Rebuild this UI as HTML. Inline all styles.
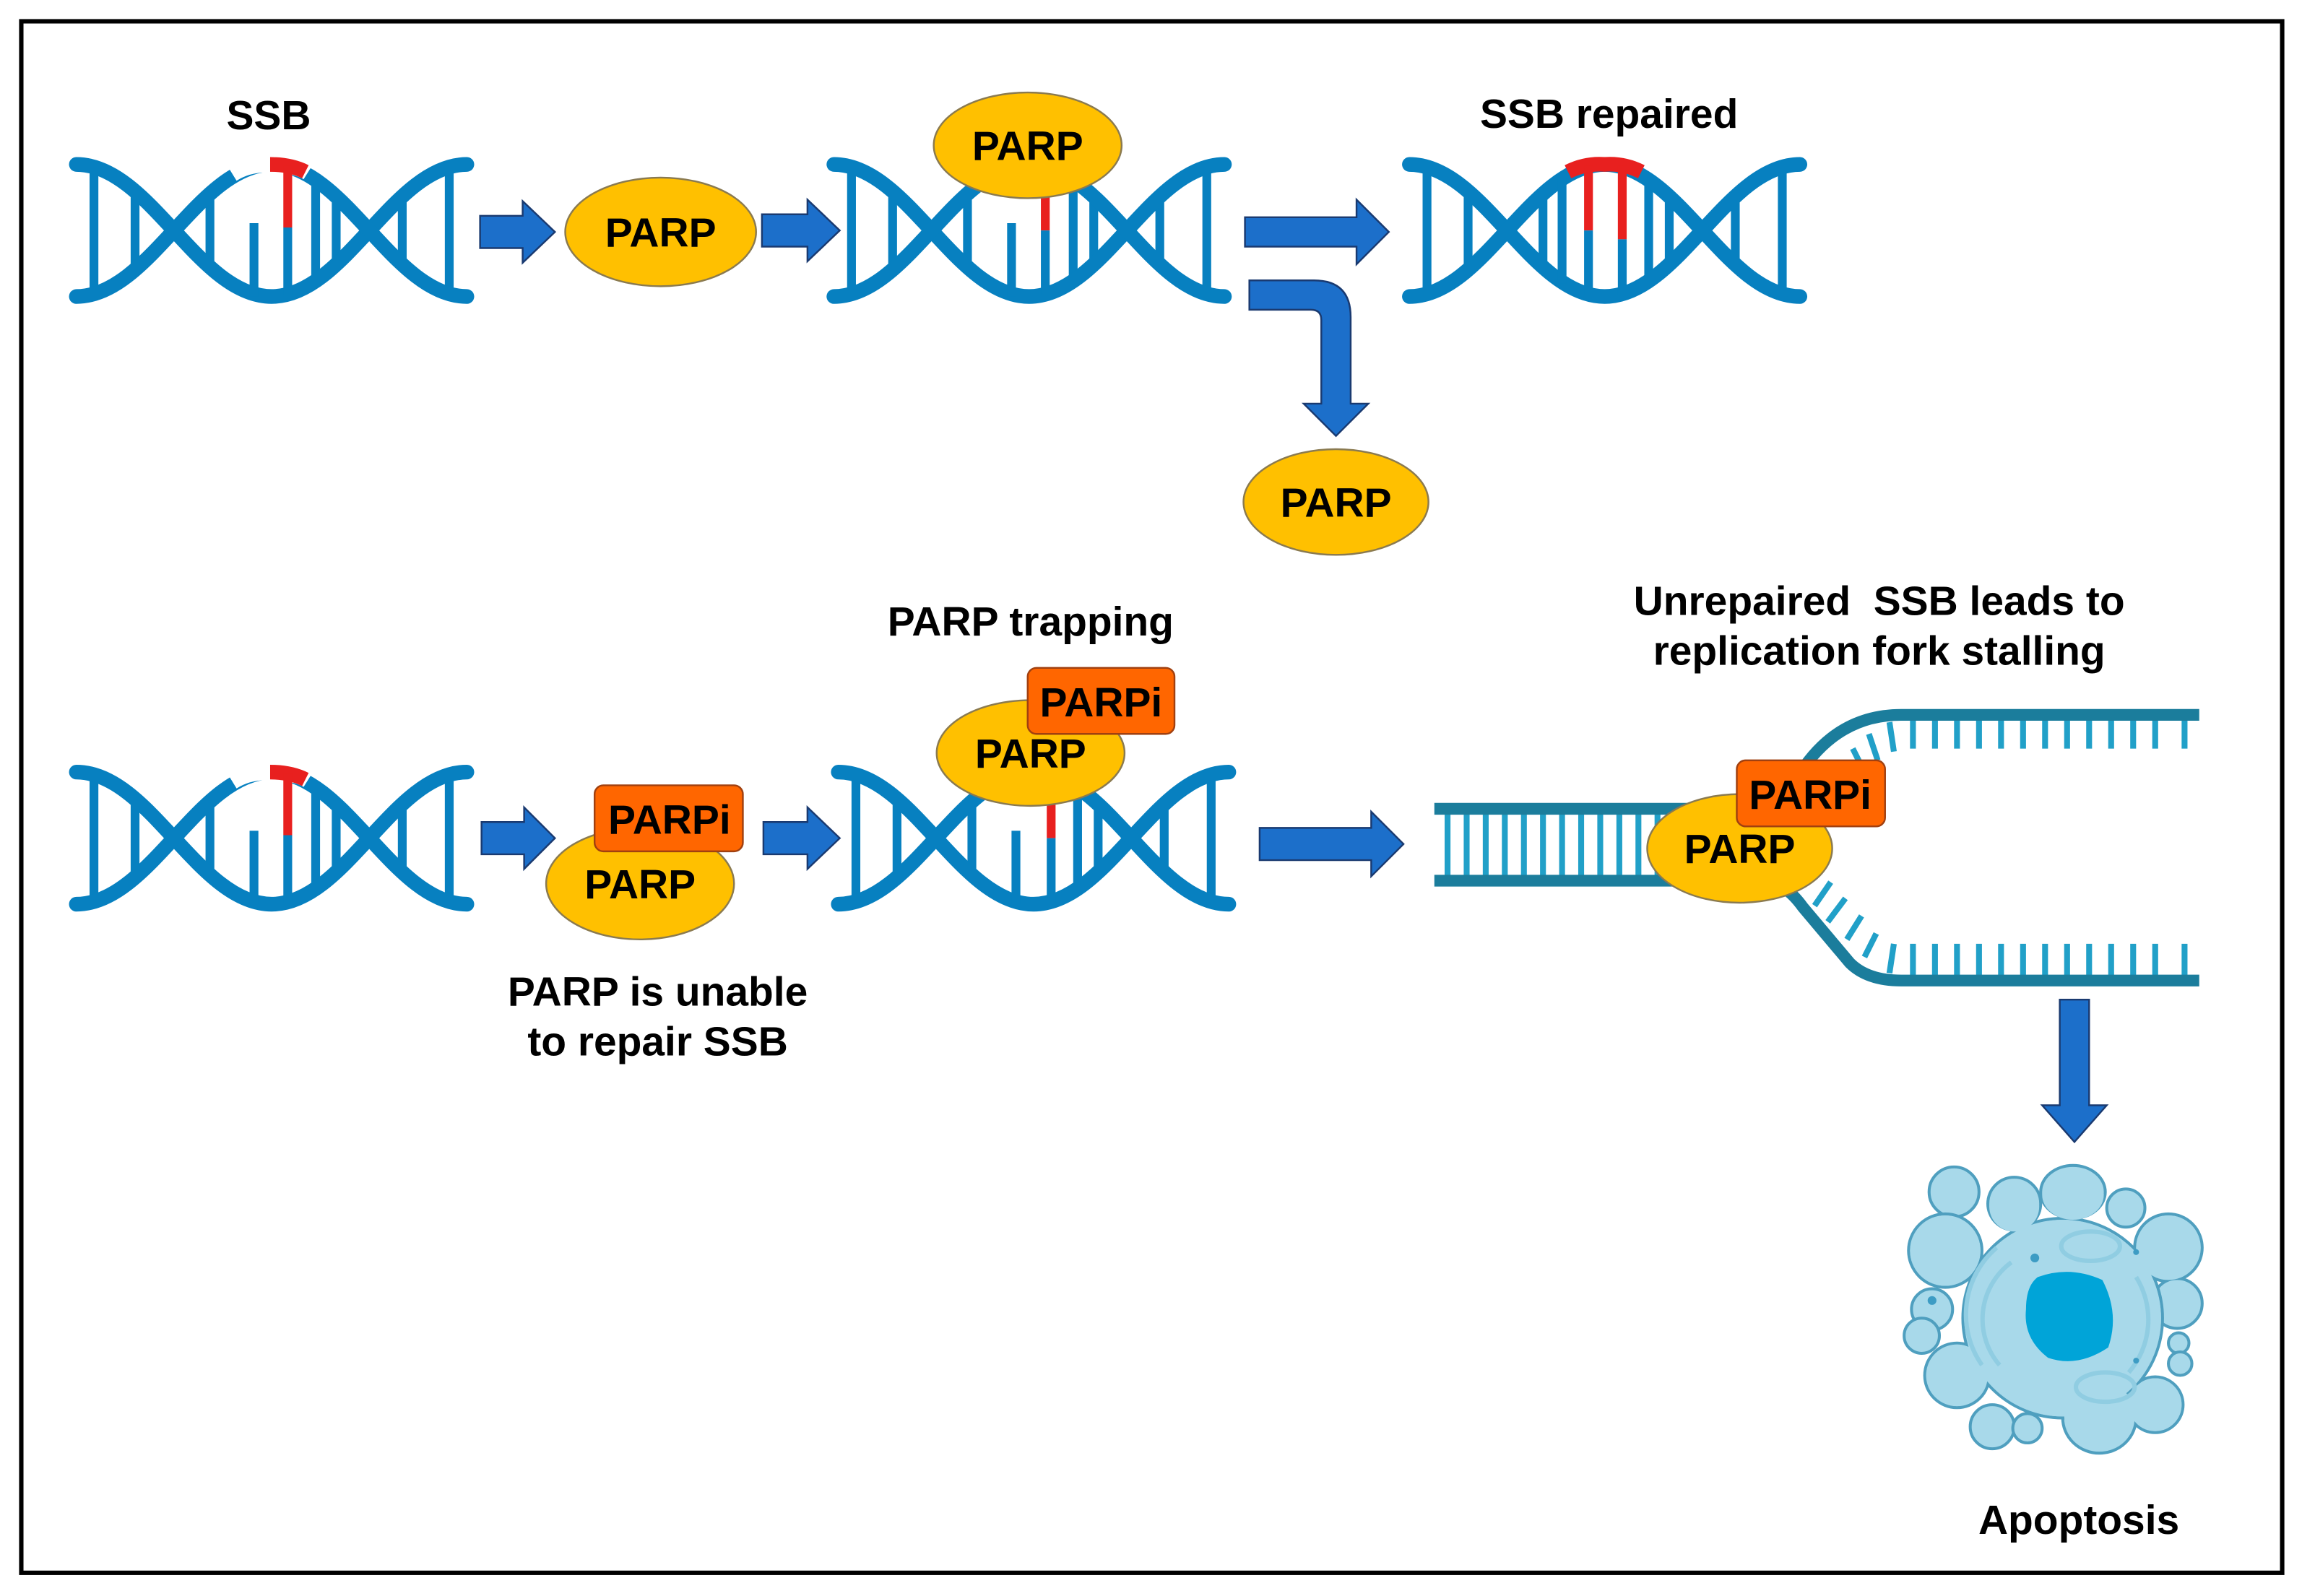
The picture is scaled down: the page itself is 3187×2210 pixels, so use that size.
<!DOCTYPE html>
<html><head><meta charset="utf-8"><style>
html,body{margin:0;padding:0;background:#fff;}
svg{display:block;}
text{font-family:"Liberation Sans",Arial,sans-serif;font-weight:bold;fill:#000;}
</style></head><body>
<svg width="3187" height="2210" viewBox="0 0 1568 1087.3" xmlns="http://www.w3.org/2000/svg">
<defs>
<g id="helix">
  <g stroke="#0780c0" stroke-width="6" fill="none">
    <line x1="12" y1="-44" x2="12" y2="44"/>
    <line x1="40" y1="-26" x2="40" y2="26"/>
    <line x1="91" y1="-25" x2="91" y2="25"/>
    <line x1="163" y1="-34" x2="163" y2="34"/>
    <line x1="177" y1="-25" x2="177" y2="25"/>
    <line x1="222" y1="-22" x2="222" y2="22"/>
    <line x1="254" y1="-44" x2="254" y2="44"/>
  </g>
  <g stroke="#0780c0" stroke-width="10" fill="none" stroke-linecap="round">
    <path d="M0,-45 C50,-45 83,45 133,45 C183,45 216,-45 266,-45"/>
    <path d="M0,45 C50,45 83,-45 133,-45 C183,-45 216,45 266,45"/>
  </g>
</g>
</defs>
<rect x="0" y="0" width="1568" height="1088" fill="#fff"/>
<rect x="14.5" y="14.5" width="1540" height="1057" fill="none" stroke="#000" stroke-width="3"/>

<!-- Helix 1 SSB -->
<g transform="translate(52,157)">
  <use href="#helix"/>
  <line x1="121" y1="-5" x2="121" y2="45" stroke="#0780c0" stroke-width="6"/>
  <path d="M106,-39 Q119,-47 134,-45 Q150,-45 158,-40" stroke="#fff" stroke-width="12" fill="none"/>
  <path d="M132,-45 Q146,-45 156,-40" stroke="#e8201f" stroke-width="10" fill="none"/>
  <line x1="144" y1="-44" x2="144" y2="-2" stroke="#e8201f" stroke-width="6"/>
  <line x1="144" y1="-2" x2="144" y2="44" stroke="#0780c0" stroke-width="6"/>
</g>
<!-- Helix 2 -->
<g transform="translate(568,157)">
  <use href="#helix"/>
  <line x1="121" y1="-5" x2="121" y2="45" stroke="#0780c0" stroke-width="6"/>
  <line x1="144" y1="-24" x2="144" y2="0" stroke="#e8201f" stroke-width="6"/>
  <line x1="144" y1="0" x2="144" y2="44" stroke="#0780c0" stroke-width="6"/>
</g>
<!-- Helix 3 repaired -->
<g transform="translate(960,157)">
  <use href="#helix"/>
  <path d="M108,-40 Q120,-46 133,-45 Q146,-46 158,-40" stroke="#e8201f" stroke-width="10" fill="none"/>
  <line x1="122" y1="-44" x2="122" y2="0" stroke="#e8201f" stroke-width="6"/>
  <line x1="122" y1="0" x2="122" y2="44" stroke="#0780c0" stroke-width="6"/>
  <line x1="145" y1="-44" x2="145" y2="6" stroke="#e8201f" stroke-width="6"/>
  <line x1="145" y1="6" x2="145" y2="44" stroke="#0780c0" stroke-width="6"/>
  <line x1="104" y1="-36" x2="104" y2="36" stroke="#0780c0" stroke-width="6"/>
</g>
<!-- Helix 4 -->
<g transform="translate(52,571)">
  <use href="#helix"/>
  <line x1="121" y1="-5" x2="121" y2="45" stroke="#0780c0" stroke-width="6"/>
  <path d="M106,-39 Q119,-47 134,-45 Q150,-45 158,-40" stroke="#fff" stroke-width="12" fill="none"/>
  <path d="M132,-45 Q146,-45 156,-40" stroke="#e8201f" stroke-width="10" fill="none"/>
  <line x1="144" y1="-44" x2="144" y2="-2" stroke="#e8201f" stroke-width="6"/>
  <line x1="144" y1="-2" x2="144" y2="44" stroke="#0780c0" stroke-width="6"/>
</g>
<!-- Helix 5 -->
<g transform="translate(571,571)">
  <use href="#helix"/>
  <line x1="121" y1="-5" x2="121" y2="45" stroke="#0780c0" stroke-width="6"/>
  <line x1="145" y1="-24" x2="145" y2="0" stroke="#e8201f" stroke-width="6"/>
  <line x1="145" y1="0" x2="145" y2="44" stroke="#0780c0" stroke-width="6"/>
</g>

<!-- Arrows -->
<g fill="#1c6fca" stroke="#1a3a70" stroke-width="1.2">
  <path d="M327,147 L356,147 L356,137 L378,158 L356,179 L356,169 L327,169 Z"/>
  <path d="M519,146 L550,146 L550,136 L572,157 L550,178 L550,168 L519,168 Z"/>
  <path d="M848,148 L924,148 L924,136 L946,158 L924,180 L924,168 L848,168 Z"/>
  <path d="M851,191 L895,191 Q920,191 920,216 L920,275 L932,275 L910,297 L888,275 L900,275 L900,218 Q900,211 893,211 L851,211 Z"/>
  <path d="M328,560 L357,560 L357,550 L378,571 L357,592 L357,582 L328,582 Z"/>
  <path d="M520,560 L550,560 L550,550 L572,571 L550,592 L550,582 L520,582 Z"/>
  <path d="M858,564 L934,564 L934,553 L956,575 L934,597 L934,586 L858,586 Z"/>
  <path d="M1403,681 L1423,681 L1423,753 L1435,753 L1413,778 L1391,753 L1403,753 Z"/>
</g>

<!-- Fork -->
<g stroke="#21a0c8" stroke-width="4">
  <line x1="986" y1="554" x2="986" y2="597"/><line x1="999" y1="554" x2="999" y2="597"/>
  <line x1="1012" y1="554" x2="1012" y2="597"/><line x1="1025" y1="554" x2="1025" y2="597"/>
  <line x1="1038" y1="554" x2="1038" y2="597"/><line x1="1051" y1="554" x2="1051" y2="597"/>
  <line x1="1064" y1="554" x2="1064" y2="597"/><line x1="1077" y1="554" x2="1077" y2="597"/>
  <line x1="1090" y1="554" x2="1090" y2="597"/><line x1="1103" y1="554" x2="1103" y2="597"/>
  <line x1="1116" y1="554" x2="1116" y2="597"/><line x1="1129" y1="554" x2="1129" y2="597"/>
  <line x1="1303" y1="490" x2="1303" y2="510"/><line x1="1318" y1="490" x2="1318" y2="510"/>
  <line x1="1333" y1="490" x2="1333" y2="510"/><line x1="1348" y1="490" x2="1348" y2="510"/>
  <line x1="1363" y1="490" x2="1363" y2="510"/><line x1="1378" y1="490" x2="1378" y2="510"/>
  <line x1="1393" y1="490" x2="1393" y2="510"/><line x1="1408" y1="490" x2="1408" y2="510"/>
  <line x1="1423" y1="490" x2="1423" y2="510"/><line x1="1438" y1="490" x2="1438" y2="510"/>
  <line x1="1453" y1="490" x2="1453" y2="510"/><line x1="1468" y1="490" x2="1468" y2="510"/>
  <line x1="1488" y1="490" x2="1488" y2="510"/>
  <line x1="1287" y1="492" x2="1290" y2="512"/><line x1="1273" y1="500" x2="1279" y2="518"/>
  <line x1="1262" y1="510" x2="1270" y2="526"/><line x1="1253" y1="522" x2="1262" y2="536"/>
  <line x1="1303" y1="665" x2="1303" y2="643"/><line x1="1318" y1="665" x2="1318" y2="643"/>
  <line x1="1333" y1="665" x2="1333" y2="643"/><line x1="1348" y1="665" x2="1348" y2="643"/>
  <line x1="1363" y1="665" x2="1363" y2="643"/><line x1="1378" y1="665" x2="1378" y2="643"/>
  <line x1="1393" y1="665" x2="1393" y2="643"/><line x1="1408" y1="665" x2="1408" y2="643"/>
  <line x1="1423" y1="665" x2="1423" y2="643"/><line x1="1438" y1="665" x2="1438" y2="643"/>
  <line x1="1453" y1="665" x2="1453" y2="643"/><line x1="1468" y1="665" x2="1468" y2="643"/>
  <line x1="1488" y1="665" x2="1488" y2="643"/>
  <line x1="1287" y1="663" x2="1290" y2="643"/><line x1="1270" y1="652" x2="1278" y2="636"/>
  <line x1="1258" y1="640" x2="1268" y2="624"/><line x1="1245" y1="628" x2="1257" y2="612"/>
  <line x1="1236" y1="617" x2="1247" y2="601"/>
</g>
<g stroke="#1b7d9c" stroke-width="8" fill="none">
  <path d="M977,551 L1195,551 Q1212,551 1224,530 Q1250,487 1295,487 L1498,487"/>
  <path d="M977,600 L1200,600 Q1215,600 1228,618 L1260,656 Q1272,668 1295,668 L1498,668"/>
</g>

<!-- PARP ellipses -->
<g fill="#ffc000" stroke="#8a7a50" stroke-width="1.2">
  <ellipse cx="450" cy="158" rx="65" ry="37"/>
  <ellipse cx="700" cy="99" rx="64" ry="36"/>
  <ellipse cx="910" cy="342" rx="63" ry="36"/>
  <ellipse cx="436" cy="602" rx="64" ry="38"/>
  <ellipse cx="702" cy="513" rx="64" ry="36"/>
  <ellipse cx="1185" cy="578" rx="63" ry="37"/>
</g>
<g fill="#ff6600" stroke="#a04010" stroke-width="1.2">
  <rect x="405" y="535" width="101" height="45" rx="6"/>
  <rect x="700" y="455" width="100" height="45" rx="6"/>
  <rect x="1183" y="518" width="101" height="45" rx="6"/>
</g>

<g font-size="28" text-anchor="middle">
  <text x="450" y="168">PARP</text>
  <text x="700" y="109">PARP</text>
  <text x="910" y="352">PARP</text>
  <text x="436" y="612">PARP</text>
  <text x="702" y="523">PARP</text>
  <text x="1185" y="588">PARP</text>
  <text x="456" y="568">PARPi</text>
  <text x="750" y="488">PARPi</text>
  <text x="1233" y="551">PARPi</text>
</g>
<g font-size="28" text-anchor="middle">
  <text x="183" y="88">SSB</text>
  <text x="1096" y="87">SSB repaired</text>
  <text x="702" y="433">PARP trapping</text>
  <text x="1280" y="419" xml:space="preserve">Unrepaired  SSB leads to</text>
  <text x="1280" y="453">replication fork stalling</text>
  <text x="448" y="685">PARP is unable</text>
  <text x="448" y="719">to repair SSB</text>
  <text x="1416" y="1045">Apoptosis</text>
</g>

<!-- Apoptotic cell -->
<g>
  <g fill="#a8d9ea" stroke="#4f9fbf" stroke-width="2">
    <circle cx="1331" cy="812" r="17"/><circle cx="1325" cy="852" r="25"/>
    <circle cx="1372" cy="820" r="18"/><ellipse cx="1412" cy="812" rx="22" ry="18"/>
    <circle cx="1448" cy="823" r="13"/><circle cx="1477" cy="850" r="23"/>
    <circle cx="1316" cy="892" r="14"/><circle cx="1309" cy="910" r="12"/>
    <circle cx="1483" cy="888" r="17"/><circle cx="1484" cy="915" r="7"/>
    <circle cx="1485" cy="929" r="8"/><circle cx="1333" cy="937" r="22"/>
    <circle cx="1357" cy="972" r="15"/><circle cx="1381" cy="973" r="10"/>
    <circle cx="1468" cy="957" r="19"/><ellipse cx="1430" cy="966" rx="25" ry="24"/>
    <circle cx="1405" cy="898" r="68"/>
  </g>
  <g fill="#a8d9ea">
    <circle cx="1405" cy="898" r="67"/>
    <circle cx="1325" cy="852" r="24"/><circle cx="1477" cy="850" r="22"/>
    <ellipse cx="1412" cy="814" rx="21" ry="17"/><circle cx="1333" cy="937" r="21"/>
    <ellipse cx="1430" cy="964" rx="24" ry="23"/><circle cx="1468" cy="957" r="18"/>
    <circle cx="1372" cy="822" r="17"/>
  </g>
  <g fill="none" stroke="#90cde2" stroke-width="3">
    <path d="M1350,930 A60,60 0 0 1 1360,850"/>
    <path d="M1362,930 A48,48 0 0 1 1370,860"/>
    <path d="M1455,870 A55,55 0 0 1 1450,935"/>
    <ellipse cx="1424" cy="849" rx="20" ry="10"/>
    <ellipse cx="1434" cy="945" rx="20" ry="10"/>
  </g>
  <path d="M1388,870 Q1410,862 1432,872 Q1444,895 1436,918 Q1415,932 1395,925 Q1378,912 1380,892 Q1380,876 1388,870 Z" fill="#00a4d8"/>
  <g fill="#3d9cc4"><circle cx="1386" cy="857" r="3"/><circle cx="1316" cy="886" r="3"/><circle cx="1455" cy="853" r="2"/><circle cx="1455" cy="927" r="2"/></g>
</g>
</svg>
</body></html>
